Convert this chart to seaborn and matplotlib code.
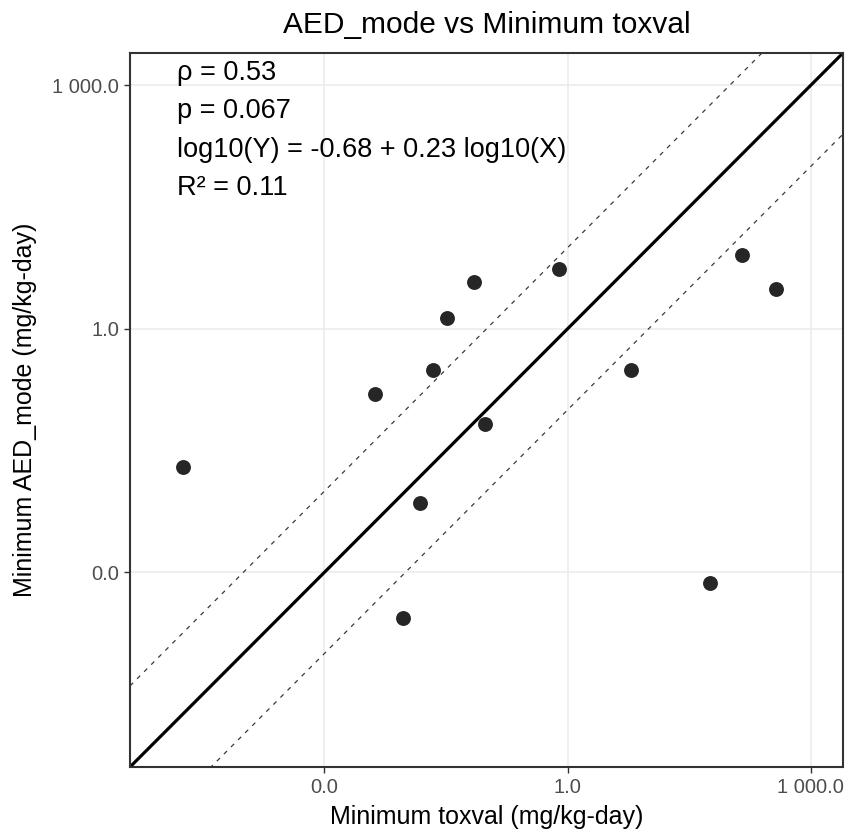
import numpy as np
import pandas as pd
import matplotlib
matplotlib.use("Agg")
import matplotlib.pyplot as plt
import seaborn as sns

# Minimum toxval vs minimum AED_mode per chemical (mg/kg-day)
min_toxval = [1.79e-5, 0.00423, 0.0218, 0.0330, 0.0692, 0.796, 0.0964,
              0.0149, 0.00944, 6.11, 140.6, 377.6, 56.6]
min_aed_mode = [0.0198, 0.156, 0.309, 1.368, 3.80, 5.41, 0.0665,
                0.00711, 0.000274, 0.309, 8.05, 3.06, 0.000731]

tick_values = [1e-3, 1.0, 1e3]
tick_labels = ["0.0", "1.0", "1 000.0"]

stat_lines = ["ρ = 0.53", "p = 0.067",
              "log10(Y) = -0.68 + 0.23 log10(X)", "R² = 0.11"]

df = pd.DataFrame({"toxval": min_toxval, "aed": min_aed_mode})

sns.set_theme(style="white")
plt.rcParams["font.family"] = ["Liberation Sans", "DejaVu Sans"]

fig = plt.figure(figsize=(8.48, 8.38), dpi=100)
ax = fig.add_axes([130 / 848, 1 - 767 / 838, 713 / 848, 714 / 838])

lo, hi = 10 ** -5.4, 10 ** 3.4
ax.set_xscale("log")
ax.set_yscale("log")
ax.set_xlim(lo, hi)
ax.set_ylim(lo, hi)

# grid at major ticks only
for t in tick_values:
    ax.axvline(t, color="#EBEBEB", lw=1.1, zorder=0)
    ax.axhline(t, color="#EBEBEB", lw=1.1, zorder=0)

# 1:1 line and +/- one order of magnitude bands
ref = pd.DataFrame({"x": [lo, hi]})
ax.plot(ref["x"], ref["x"], color="black", lw=2.3, zorder=2)
ax.plot(ref["x"], ref["x"] * 10, color="#3A3A3A", lw=0.9,
        ls=(0, (3.5, 4.5)), zorder=2)
ax.plot(ref["x"], ref["x"] / 10, color="#3A3A3A", lw=0.9,
        ls=(0, (3.5, 4.5)), zorder=2)

sns.scatterplot(data=df, x="toxval", y="aed", ax=ax, color="#1A1A1A",
                s=115, linewidth=0, alpha=0.95, zorder=3, legend=False)

ax.set_xticks(tick_values)
ax.set_xticklabels(tick_labels)
ax.set_yticks(tick_values)
ax.set_yticklabels(tick_labels)
ax.minorticks_off()
ax.tick_params(axis="both", which="major", length=4, width=1.0,
               color="#333333", labelcolor="#4D4D4D", labelsize=14.5,
               direction="out", bottom=True, left=True, pad=4)

for s in ax.spines.values():
    s.set_color("#333333")
    s.set_linewidth(1.5)

ax.set_xlabel("Minimum toxval (mg/kg-day)", fontsize=18, color="black",
              labelpad=6)
ax.set_ylabel("Minimum AED_mode (mg/kg-day)", fontsize=18, color="black",
              labelpad=11)
ax.set_title("AED_mode vs Minimum toxval", fontsize=21.5, color="black",
             pad=14.5)

text_y = [10 ** 3.157, 10 ** 2.688, 10 ** 2.207, 10 ** 1.738]
for label, yv in zip(stat_lines, text_y):
    ax.text(10 ** -4.82, yv, label, fontsize=19.5, color="black",
            ha="left", va="center", zorder=4)

fig.savefig("out.png", dpi=100)
